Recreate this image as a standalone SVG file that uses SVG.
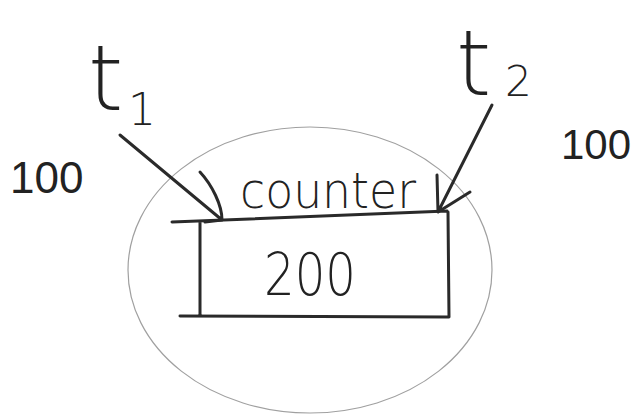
<svg xmlns="http://www.w3.org/2000/svg" width="641" height="418" viewBox="0 0 641 418">
<style>
.ink{fill:none;stroke:#2a2a2a;stroke-width:3;stroke-linecap:round;stroke-linejoin:round}
.thin{fill:none;stroke:#a0a0a0;stroke-width:1.2}
.txt{font-family:"DejaVu Sans","Liberation Sans",sans-serif;font-weight:200;fill:#222}
.num{font-family:"Liberation Sans",Arial,sans-serif;fill:#222}
</style>
<rect width="641" height="418" fill="#fff"/>
<g id="scope"><ellipse class="thin" cx="310" cy="270" rx="182" ry="143"/></g>
<g id="counter">
<path class="ink" d="M172 222 L447 211 M200 222 L200 316 M180 316 L448 317 M448 212 L449 317"/>
<text class="txt" x="240" y="208" font-size="50" textLength="176" lengthAdjust="spacingAndGlyphs">counter</text>
<text class="txt" x="264" y="295" font-size="58" textLength="92" lengthAdjust="spacingAndGlyphs">200</text>
</g>
<g id="t1">
<text class="txt" x="88" y="110" font-size="90">t</text>
<text class="txt" x="128" y="125" font-size="44">1</text>
<text class="num" x="10" y="193" font-size="44">100</text>
</g>
<g id="t2">
<text class="txt" x="456" y="95" font-size="90">t</text>
<text class="txt" x="505" y="96" font-size="42">2</text>
<text class="num" x="561" y="159" font-size="42">100</text>
</g>
<g id="connectors">
<path class="ink" d="M120 135 L222 220 M200 172 C212 185 222 205 222 220 L205 222"/>
<path class="ink" d="M492 105 L438 212 M437 175 L438 212 L470 192"/>
</g>
</svg>
